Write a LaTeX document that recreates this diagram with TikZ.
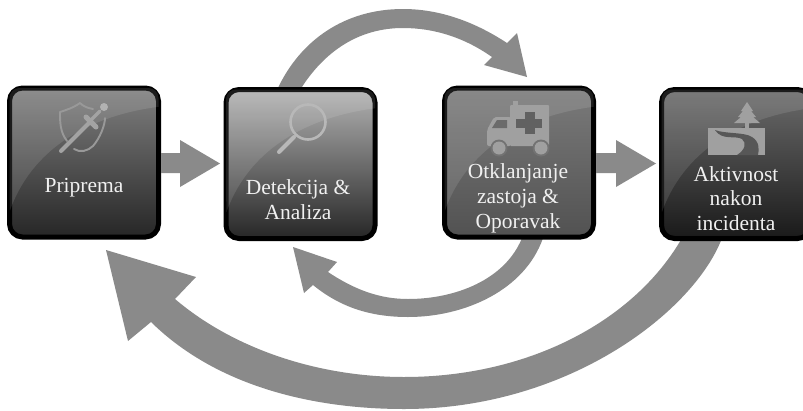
\documentclass[tikz,border=0pt]{standalone}
\usepackage{fontspec}
\setmainfont{Liberation Serif}
\usetikzlibrary{calc}
\definecolor{arrowgray}{HTML}{8A8A8A}
\definecolor{icon}{HTML}{A0A0A0}
\tikzset{
  x=1pt,y=-1pt,
  stepbox/.style={draw=black,line width=5pt,rounded corners=13pt,minimum width=149pt,minimum height=149pt,inner sep=0pt},
  flow/.style={fill=arrowgray,draw=none},
  lbl/.style={text=white!94!black,align=center,font=\fontsize{21.5}{24.8}\selectfont,inner sep=0pt},
  gloss/.style={fill=white,fill opacity=.11,draw=none},
  iconline/.style={draw=icon,fill=none,line cap=round,line join=round},
}
\newcommand{\glossover}[1]{%
  \begin{scope}
    \clip[rounded corners=10pt] ($(#1.north west)+(2.5,2.5)$) rectangle ($(#1.south east)+(-2.5,-2.5)$);
    \fill[gloss] ($(#1.north west)$) -- ($(#1.north east)$) -- ($(#1.north east)+(0,21)$)
      .. controls ($(#1.north west)+(95,28)$) and ($(#1.north west)+(28,55)$) .. ($(#1.north west)+(3,125)$)
      -- cycle;
  \end{scope}}
\begin{document}
\begin{tikzpicture}
\useasboundingbox (0,0) rectangle (803,410);
\clip (0,0) rectangle (803,410);
\fill[white] (0,0) rectangle (803,410);

% free ends of the curved arrows
\coordinate (topA) at (277,90);
\coordinate (topB) at (300,90);
\coordinate (midA) at (543,238);
\coordinate (midB) at (522,238);
\coordinate (bigA) at (722,238);
\coordinate (bigB) at (682,238);

% curved arrows
\fill[flow] (topA) .. controls (300,40) and (345,9) .. (403,9)
  .. controls (440,9) and (475,22) .. (507,43)
  -- (517,33) -- (527,77) -- (484,65) -- (492,57)
  .. controls (465,38) and (435,28) .. (403,28)
  .. controls (360,28) and (325,50) .. (topB) -- cycle;
\fill[flow] (midA) .. controls (525,290) and (465,317) .. (408,317)
  .. controls (370,317) and (340,307) .. (313,285)
  -- (304,293) -- (293,247) -- (337,262) -- (328,272)
  .. controls (355,290) and (380,299) .. (408,299)
  .. controls (455,299) and (505,280) .. (midB) -- cycle;
\fill[flow] (bigA) .. controls (695,310) and (570,409) .. (404,409)
  .. controls (310,409) and (215,385) .. (151,322)
  -- (128,341) -- (106,250) -- (196,277) -- (175,299)
  .. controls (235,350) and (320,377) .. (404,377)
  .. controls (530,377) and (635,320) .. (bigB) -- cycle;

% boxes
\node[stepbox,top color=black!50,bottom color=black!85] (s1) at (84,162.5) {};
\node[stepbox,top color=black!30,bottom color=black!85] (s2) at (300.5,164) {};
\node[stepbox,top color=black!52,middle color=black!66,bottom color=black!68] (s3) at (519,162.5) {};
\node[stepbox,top color=black!58,bottom color=black!90] (s4) at (736,164) {};
\glossover{s1}\glossover{s2}\glossover{s3}\glossover{s4}

% straight arrows
\fill[flow] ($(s1.east)+(0,-9.5)$) -- ++(19,0) -- ++(0,-13) -- (220,163.5) -- (180,187) -- (180,173) -- ($(s1.east)+(0,10.5)$) -- cycle;
\fill[flow] ($(s3.east)+(0,-9.5)$) -- ++(20,0) -- ++(0,-13) -- (656,163.5) -- (616,187) -- (616,173) -- ($(s3.east)+(0,10.5)$) -- cycle;

% icon: shield and sword
\draw[iconline,line width=1.9pt,draw=black!40] (93,109) .. controls (87,108) and (83,106) .. (80,103) .. controls (73,108) and (66,110) .. (60,112)
  .. controls (60,122) and (60,132) .. (67,141);
\draw[iconline,line width=1.9pt,draw=black!40] (74,149) .. controls (80,153) and (88,151) .. (93,146) .. controls (100,138) and (105,125) .. (105,118);
\draw[iconline,line width=4pt,draw=black!36] (61,151) -- (90,122);
\draw[iconline,line width=5pt,draw=black!36] (86,117) -- (96,127);
\draw[iconline,line width=3.5pt,draw=black!36] (92,119) -- (100,111);
\fill[black!30] (104,107) circle (4);

% icon: magnifier
\draw[iconline,line width=2.6pt,draw=black!28] (308,122) circle (17.5);
\draw[iconline,line width=4pt,draw=black!28] (294,137) -- (279,152);

% icon: ambulance
\fill[icon,rounded corners=1pt] (510,105) rectangle (549,146);
\fill[icon] (513,101) rectangle (518,106);
\fill[icon,rounded corners=2pt] (511,117) -- (494,117) -- (487,130) -- (487,146) -- (511,146) -- cycle;
\fill[black!58] (497,120) -- (507,120) -- (507,128) -- (492,128) -- cycle;
\fill[black!62] (516,119) rectangle (542,128);
\fill[black!62] (525,112) rectangle (535,134);
\fill[black!55] (499,148) circle (8.5) (541,148) circle (8.5);
\fill[icon] (499,148) circle (6.5) (541,148) circle (6.5);

% icon: tree and road
\fill[icon] (747,102) -- (753,111) -- (751,111) -- (756,117) -- (753,117) -- (760,123) -- (734,123) -- (741,117) -- (738,117) -- (743,111) -- (741,111) -- cycle;
\fill[icon] (745,122) rectangle (749,129);
\fill[icon] (708,128) -- (765,128) -- (765,155) -- (708,155) -- cycle;
\fill[black!66] (715,130) .. controls (725,134) and (745,132) .. (752,137)
  .. controls (760,142) and (759,150) .. (758,155) -- (737,155)
  .. controls (745,150) and (747,143) .. (742,139)
  .. controls (735,135) and (722,141) .. (715,130) -- cycle;

% labels
\node[lbl] (t1) at (84,188) {Priprema};
\node[lbl] (t2) at (298,200) {Detekcija \&\\Analiza};
\node[lbl] (t3) at (518,198.5) {Otklanjanje\\zastoja \&\\Oporavak};
\node[lbl] (t4) at (736,198.5) {Aktivnost\\nakon\\incidenta};
\end{tikzpicture}
\end{document}
